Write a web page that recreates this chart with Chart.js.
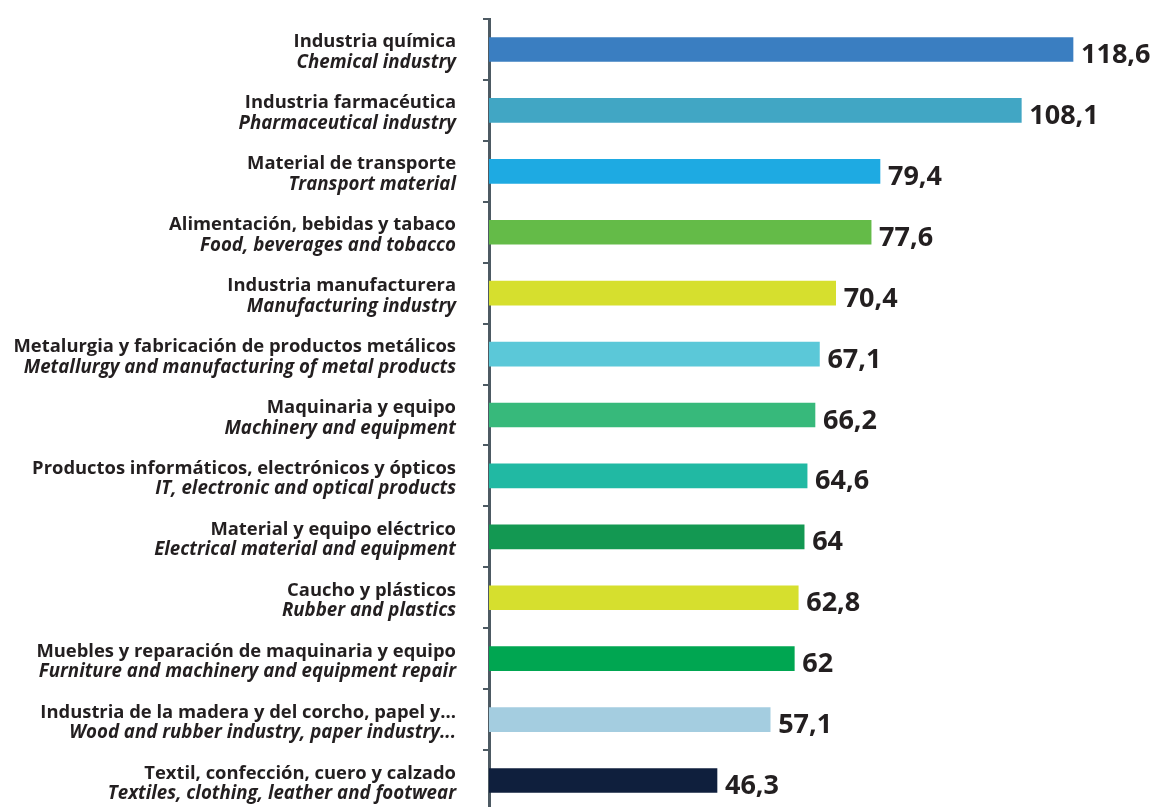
<!DOCTYPE html>
<html>
<head>
<meta charset="utf-8">
<script src="https://cdn.jsdelivr.net/npm/chart.js@4/dist/chart.umd.min.js"></script>
<style>
  html, body { margin: 0; padding: 0; background: #fff; overflow: hidden; }
  #wrap { position: relative; width: 1155px; height: 811px; }
</style>
</head>
<body>
<div id="wrap"><canvas id="sectors-chart"></canvas></div>
<script>
// Sector labels (Spanish / English) and values
const sectorsEs = [
    'Industria química',
    'Industria farmacéutica',
    'Material de transporte',
    'Alimentación, bebidas y tabaco',
    'Industria manufacturera',
    'Metalurgia y fabricación de productos metálicos',
    'Maquinaria y equipo',
    'Productos informáticos, electrónicos y ópticos',
    'Material y equipo eléctrico',
    'Caucho y plásticos',
    'Muebles y reparación de maquinaria y equipo',
    'Industria de la madera y del corcho, papel y...',
    'Textil, confección, cuero y calzado'
];
const sectorsEn = [
    'Chemical industry',
    'Pharmaceutical industry',
    'Transport material',
    'Food, beverages and tobacco',
    'Manufacturing industry',
    'Metallurgy and manufacturing of metal products',
    'Machinery and equipment',
    'IT, electronic and optical products',
    'Electrical material and equipment',
    'Rubber and plastics',
    'Furniture and machinery and equipment repair',
    'Wood and rubber industry, paper industry...',
    'Textiles, clothing, leather and footwear'
];
const values = [118.6, 108.1, 79.4, 77.6, 70.4, 67.1, 66.2, 64.6, 64, 62.8, 62, 57.1, 46.3];
const barColors = [
    '#3a7ec1', '#41a6c4', '#1eaae2', '#64bb48', '#d6df2e', '#5bc8d8', '#37b97b',
    '#21b9a3', '#139852', '#d6df2e', '#00a651', '#a4cde0', '#0f1f3d'
];

const TEXT = '#231f20';
const AXIS = '#4d5a63';

// category labels: bold spanish line + italic english line, right aligned
const sectorLabels = {
    id: 'sectorLabels',
    afterDraw(chart) {
        const ctx = chart.ctx;
        const y = chart.scales.y;
        ctx.save();
        ctx.fillStyle = TEXT;
        ctx.textAlign = 'right';
        ctx.textBaseline = 'alphabetic';
        sectorsEs.forEach((txt, i) => {
            const cy = y.getPixelForValue(i);
            ctx.font = 'bold 18.4px "Open Sans"';
            ctx.fillText(txt, 456, cy - 2);
            ctx.font = 'italic bold 18.7px "Open Sans"';
            ctx.fillText(sectorsEn[i], 456, cy + 18.5);
        });
        ctx.restore();
    }
};

// value next to the end of each bar
const valueLabels = {
    id: 'valueLabels',
    afterDatasetsDraw(chart) {
        const ctx = chart.ctx;
        const meta = chart.getDatasetMeta(0);
        ctx.save();
        ctx.fillStyle = TEXT;
        ctx.font = 'bold 27px "Open Sans"';
        ctx.textAlign = 'left';
        ctx.textBaseline = 'alphabetic';
        meta.data.forEach((bar, i) => {
            ctx.fillText(String(values[i]).replace('.', ','), bar.x + 8, bar.y + 13.5);
        });
        ctx.restore();
    }
};

new Chart(document.getElementById('sectors-chart'), {
    type: 'bar',
    data: {
        labels: sectorsEs,
        datasets: [{
            data: values,
            backgroundColor: barColors,
            borderWidth: 0,
            barThickness: 24
        }]
    },
    options: {
        indexAxis: 'y',
        responsive: true,
        maintainAspectRatio: false,
        animation: false,
        layout: { padding: { top: 19, right: 16, bottom: 0, left: 0 } },
        scales: {
            x: { display: false, min: 0, max: 132 },
            y: {
                afterFit: (scale) => { scale.width = 489; },
                ticks: { display: false },
                grid: {
                    drawOnChartArea: false,
                    drawTicks: true,
                    tickLength: 6,
                    color: AXIS,
                    lineWidth: 2
                },
                border: { display: true, color: AXIS, width: 3 }
            }
        },
        plugins: {
            legend: { display: false },
            tooltip: { enabled: false }
        }
    },
    plugins: [sectorLabels, valueLabels]
});
</script>
</body>
</html>
